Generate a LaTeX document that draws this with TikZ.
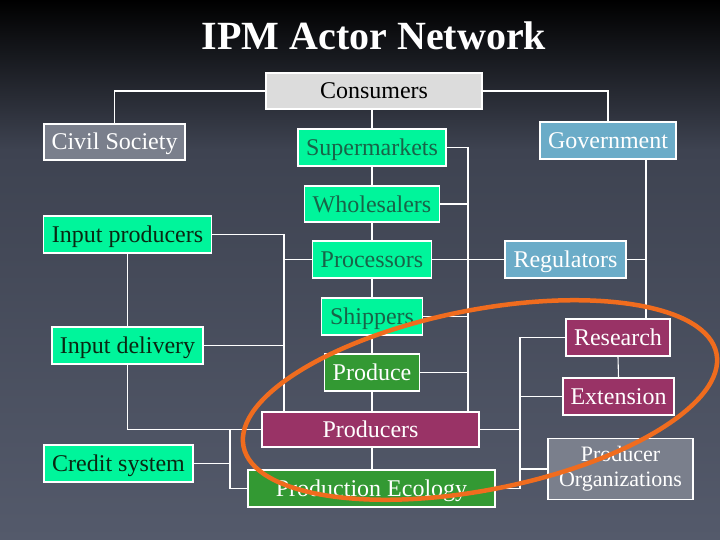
\documentclass[tikz,border=0pt]{standalone}
\usepackage{fontspec}
\setmainfont{Liberation Serif}
\definecolor{bgtop}{RGB}{0,0,0}
\definecolor{bgmid}{RGB}{62,67,81}
\definecolor{bgbot}{RGB}{84,90,107}
\definecolor{spring}{RGB}{0,245,155}
\definecolor{chaintext}{RGB}{24,100,72}
\definecolor{darktext}{RGB}{10,40,18}
\definecolor{leaf}{RGB}{51,153,51}
\definecolor{plum}{RGB}{153,51,102}
\definecolor{sky}{RGB}{107,172,200}
\definecolor{slate}{RGB}{122,127,140}
\definecolor{pale}{RGB}{220,220,220}
\definecolor{ring}{RGB}{240,108,30}
\tikzset{
  box/.style={draw=white, line width=1.1pt, inner sep=0pt, align=center,
    font=\fontsize{24}{26}\selectfont},
  onel/.style={text height=16pt, text depth=0pt},
  wire/.style={draw=white, line width=1.1pt},
  ringline/.style={draw=ring, line width=4.5pt}
}
\begin{document}
\begin{tikzpicture}[x=1pt,y=-1pt]
\useasboundingbox (0,0) rectangle (720,540);
\shade[top color=bgtop, bottom color=bgmid] (0,0) rectangle (720,150);
\shade[top color=bgmid, bottom color=bgbot] (0,150) rectangle (720,540);

\node[anchor=base, text=white, font=\bfseries\fontsize{40}{42}\selectfont] (title) at (374,50) {IPM Actor Network};

\node[box,onel,fill=pale,text=black,minimum width=216pt,minimum height=36pt] (cons) at (374,91) {Consumers};
\node[box,onel,fill=slate,text=white,minimum width=141pt,minimum height=36pt] (civil) at (114.5,142) {Civil Society};
\node[box,onel,fill=sky,text=white,minimum width=136pt,minimum height=37pt] (gov) at (608,140.5) {Government};
\node[box,onel,fill=spring,text=chaintext,minimum width=148pt,minimum height=37pt] (super) at (372,147.5) {Supermarkets};
\node[box,onel,fill=spring,text=chaintext,minimum width=135pt,minimum height=36pt] (whole) at (372,204) {Wholesalers};
\node[box,onel,fill=spring,text=darktext,minimum width=168pt,minimum height=37pt] (inprod) at (127.5,234.5) {Input producers};
\node[box,onel,fill=spring,text=chaintext,minimum width=119pt,minimum height=37pt] (proc) at (372,259.5) {Processors};
\node[box,onel,fill=sky,text=white,minimum width=121pt,minimum height=37pt] (reg) at (565.5,259.5) {Regulators};
\node[box,onel,fill=spring,text=chaintext,minimum width=101pt,minimum height=37pt] (ship) at (372,316.5) {Shippers};
\node[box,onel,fill=spring,text=darktext,minimum width=151pt,minimum height=37pt] (indel) at (127.5,345.5) {Input delivery};
\node[box,onel,fill=plum,text=white,minimum width=104pt,minimum height=37pt] (research) at (618,337.5) {Research};
\node[box,onel,fill=leaf,text=white,minimum width=95pt,minimum height=37pt] (produce) at (372,372.5) {Produce};
\node[box,onel,fill=plum,text=white,minimum width=111pt,minimum height=37pt] (ext) at (618.5,396.5) {Extension};
\node[box,onel,fill=plum,text=white,minimum width=217pt,minimum height=35pt] (producers) at (370.5,429.5) {Producers};
\node[box,onel,fill=spring,text=darktext,minimum width=149pt,minimum height=37pt] (credit) at (118.5,463.5) {Credit system};
\node[box,fill=slate,text=white,minimum width=145pt,minimum height=61pt,font=\fontsize{22}{25}\selectfont] (prodorg) at (620.5,469) {Producer\\Organizations};
\node[box,onel,fill=leaf,text=white,minimum width=247pt,minimum height=37pt] (ecol) at (371.5,488.5) {Production Ecology};

% buses
\coordinate (rbx) at (468,0);
\coordinate (lbx) at (284,0);
\coordinate (cbx) at (230,0);
\coordinate (gx) at (646,0);
\coordinate (ox) at (520,0);
\coordinate (mx) at (372,0);

\draw[wire] (cons.west) -| (civil.north);
\draw[wire] (cons.east) -| (gov.north);
\draw[wire] (cons.south -| mx) -- (super.north);
\draw[wire] (super.south) -- (whole.north);
\draw[wire] (whole.south) -- (proc.north);
\draw[wire] (proc.south) -- (ship.north);
\draw[wire] (ship.south) -- (produce.north);
\draw[wire] (produce.south) -- (producers.north -| mx);
\draw[wire] (producers.south -| mx) -- (ecol.north -| mx);

\draw[wire] (super.east) -- (super.east -| rbx) -- (rbx |- producers.north);
\draw[wire] (whole.east) -- (whole.east -| rbx);
\draw[wire] (proc.east) -- (reg.west);
\draw[wire] (ship.east) -- (ship.east -| rbx);
\draw[wire] (produce.east) -- (produce.east -| rbx);

\draw[wire] (inprod.east) -- (inprod.east -| lbx) -- (lbx |- producers.north);
\draw[wire] (proc.west) -- (proc.west -| lbx);
\draw[wire] (indel.east) -- (indel.east -| lbx);
\draw[wire] (inprod.south) -- (indel.north);
\draw[wire] (indel.south) |- (producers.west);
\draw[wire] (cbx |- producers.west) -- (cbx |- ecol.west) -- (ecol.west);
\draw[wire] (credit.east) -- (credit.east -| cbx);

\draw[wire] (gov.south -| gx) -- (research.north -| gx);
\draw[wire] (reg.east) -- (reg.east -| gx);
\draw[wire] (research.south) -- (ext.north);
\draw[wire] (research.west) -- (research.west -| ox) -- (ox |- ecol.east) -- (ecol.east);
\draw[wire] (ext.west) -- (ext.west -| ox);
\draw[wire] (producers.east) -- (producers.east -| ox);
\draw[wire] (prodorg.west) -- (prodorg.west -| ox);

\draw[ringline, rotate around={11.1:(480,400)}] (480,400) ellipse [x radius=241, y radius=90];
\end{tikzpicture}
\end{document}
